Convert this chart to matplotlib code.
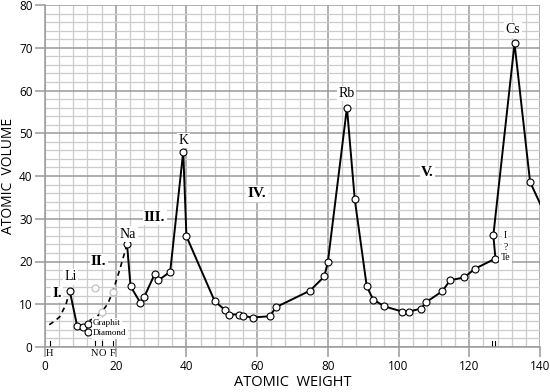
import numpy as np
import matplotlib.pyplot as plt
from matplotlib.ticker import MultipleLocator

# main curve (atomic weight, atomic volume)
weights = [7.0, 9.1, 10.8, 12.2]
volumes = [13.1, 4.9, 4.6, 5.4]

weights2 = [23.2, 24.2, 27.0, 28.0, 31.0, 32.1, 35.4, 39.1, 40.0, 48.0, 51.0, 52.0,
            55.0, 55.9, 58.7, 63.6, 65.3, 75.0, 79.0, 80.0, 85.4, 87.6, 91.0, 92.8,
            96.0, 101.0, 103.0, 106.4, 107.8, 112.3, 114.6, 118.6, 121.6, 127.4,
            126.8, 132.8, 137.2, 142.0]
volumes2 = [24.0, 14.2, 10.3, 11.6, 17.0, 15.6, 17.6, 45.7, 25.9, 10.7, 8.6, 7.6,
            7.6, 7.3, 6.9, 7.2, 9.3, 13.2, 16.5, 19.9, 56.0, 34.6, 14.2, 11.1,
            9.5, 8.3, 8.3, 9.0, 10.5, 13.0, 15.6, 16.3, 18.3, 20.7,
            26.1, 71.0, 38.6, 30.0]

diamond = (12.2, 3.5)

# gaseous elements (faint)
gas_w = [14.1, 16.1, 19.1]
gas_v = [13.8, 8.2, 12.8]

# dashed guide curves
dash1_w = [1.2, 2.8, 4.2, 5.9, 7.0]
dash1_v = [5.2, 6.1, 7.1, 9.9, 13.1]
dash2_w = [12.6, 14.5, 16.1, 17.8, 19.1, 21.1, 23.2]
dash2_v = [6.2, 7.0, 8.2, 10.2, 12.8, 18.0, 24.0]

elem_labels = ['Li', 'Na', 'K', 'Rb', 'Cs']
elem_pos = [(7.2, 16.4), (23.5, 26.4), (39.2, 48.3), (85.3, 59.3), (132.4, 74.2)]
roman = ['I.', 'II.', 'III.', 'IV.', 'V.']
roman_pos = [(3.4, 12.4), (15.2, 20.0), (31.0, 30.3), (60.0, 35.8), (108.2, 40.8)]

bottom_letters = ['H', 'N', 'O', 'F']
bottom_x = [1.3, 14.1, 16.1, 19.2]

plt.rcParams['font.family'] = ['Open Sans', 'DejaVu Sans']
fig = plt.figure(figsize=(5.5, 3.92), dpi=100)
ax = fig.add_axes([45/550, 1-347/392, 495/550, 342/392])

ax.set_xlim(0, 140)
ax.set_ylim(0, 80)
ax.xaxis.set_major_locator(MultipleLocator(20))
ax.xaxis.set_minor_locator(MultipleLocator(4))
ax.yaxis.set_major_locator(MultipleLocator(10))
ax.yaxis.set_minor_locator(MultipleLocator(2))
ax.grid(which='minor', color='#cccccc', lw=0.9)
ax.grid(which='major', color='#9a9a9a', lw=1.1)
ax.set_axisbelow(True)
for s in ['top', 'right']:
    ax.spines[s].set_visible(False)
for s in ['left', 'bottom']:
    ax.spines[s].set_color('#9a9a9a')
    ax.spines[s].set_linewidth(1.1)
ax.tick_params(which='major', length=7, color='#9a9a9a', width=1.1, labelsize=8.5, pad=2)
ax.tick_params(which='minor', length=0)

mk = dict(marker='o', ms=5, mfc='white', mec='black', mew=0.8)
ax.plot(dash1_w, dash1_v, ls=(0, (3, 2.5)), color='black', lw=1.2)
ax.plot(dash2_w, dash2_v, ls=(0, (3, 2.5)), color='black', lw=1.2)
ax.plot(gas_w, gas_v, ls='none', marker='o', ms=5, mfc='white', mec='#bbbbbb', mew=0.8)
ax.plot(weights, volumes, color='black', lw=1.4, **mk)
ax.plot(weights2, volumes2, color='black', lw=1.4, **mk)
ax.plot(*diamond, **mk)

serif = 'Liberation Serif'
box = dict(facecolor='white', edgecolor='none', pad=1)
for t, (x, y) in zip(elem_labels, elem_pos):
    ax.text(x, y, t, family=serif, fontsize=10, ha='center', va='center', bbox=box)
for t, (x, y) in zip(roman, roman_pos):
    ax.text(x, y, t, family=serif, fontsize=11, fontweight='bold', ha='center', va='center', bbox=box)

ax.text(13.6, 5.6, 'Graphit', family=serif, fontsize=6.5, ha='left', va='center', bbox=box)
ax.text(13.6, 3.2, 'Diamond', family=serif, fontsize=6.5, ha='left', va='center', bbox=box)
for t, y in zip(['I', '?', 'Te'], [26.1, 23.3, 20.9]):
    ax.text(130.2, y, t, family=serif, fontsize=7, ha='center', va='center', bbox=box)

for t, x in zip(bottom_letters, bottom_x):
    ax.plot([x, x], [0.2, 1.4], color='black', lw=0.8)
    ax.text(x, -0.4, t, family=serif, fontsize=7.5, ha='center', va='top', clip_on=False)
for x in [126.5, 127.3]:
    ax.plot([x, x], [0.3, 1.3], color='black', lw=0.8)

fig.text(293/550, 1-383/392, 'ATOMIC  WEIGHT', fontsize=10.5, ha='center', va='center')
fig.text(9/550, 1-176/392, 'ATOMIC  VOLUME', fontsize=10, ha='center', va='center', rotation=90)

fig.savefig('out.png', dpi=100)
